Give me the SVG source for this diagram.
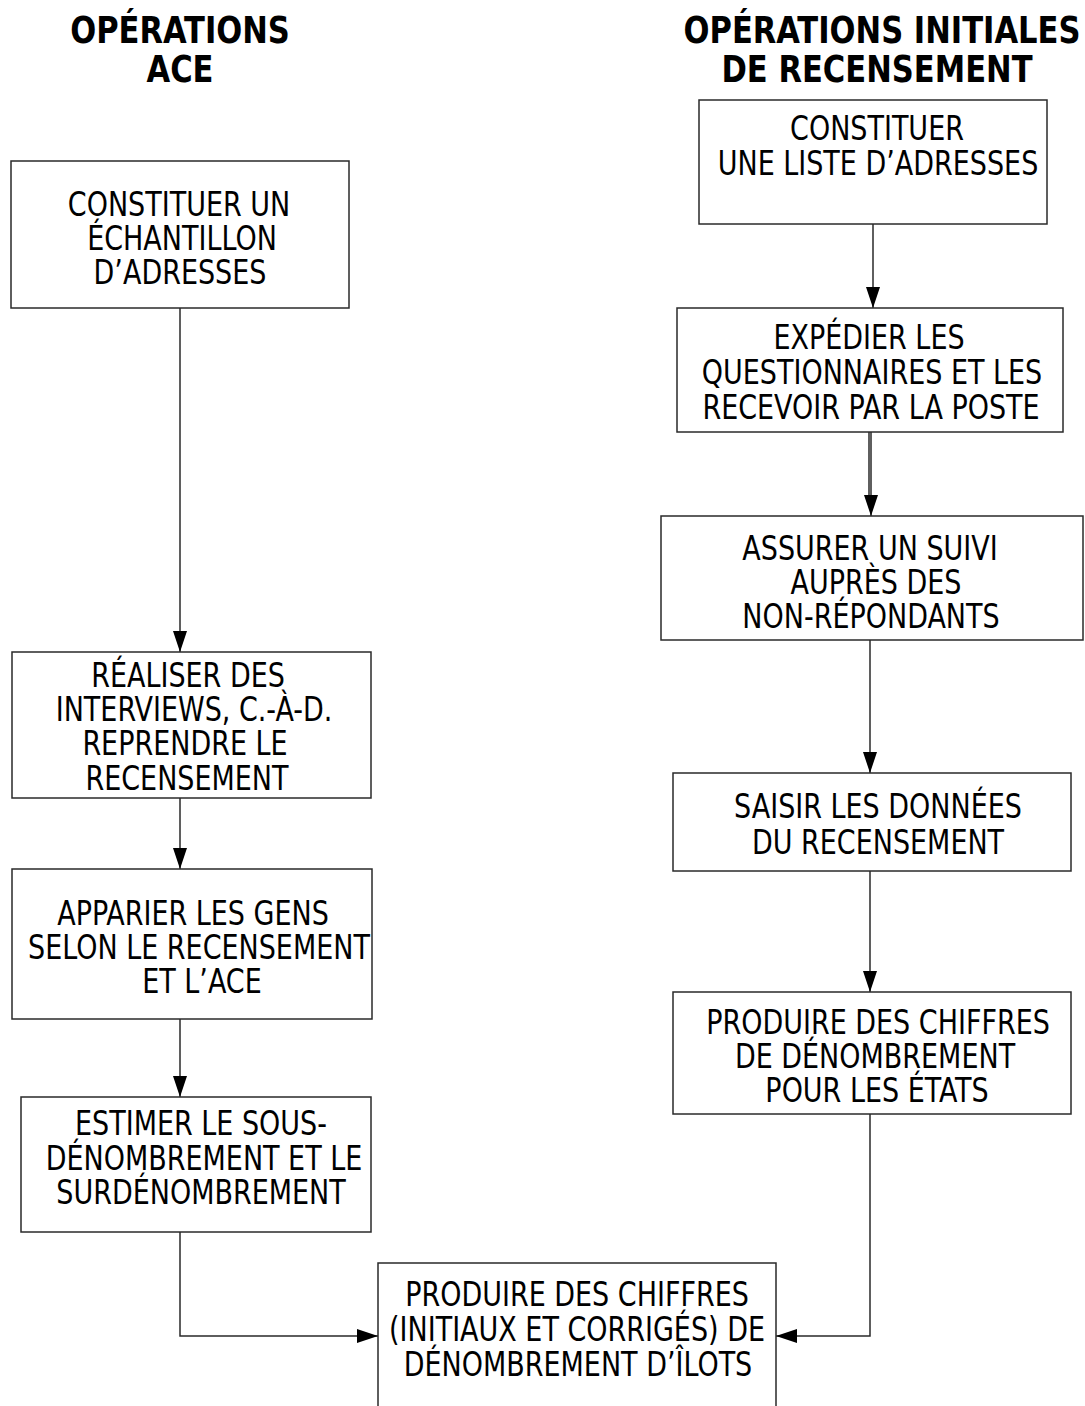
<svg xmlns="http://www.w3.org/2000/svg" width="1085" height="1406" viewBox="0 0 1085 1406">
<style>
  .box { fill: #ffffff; stroke: #2a2a2a; stroke-width: 1.5; }
  .t { font-family: "DejaVu Sans Condensed", "DejaVu Sans", sans-serif; font-stretch: condensed; font-size: 30px; fill: #000; text-anchor: middle; }
  .h { font-family: "DejaVu Sans Condensed", "DejaVu Sans", sans-serif; font-stretch: condensed; font-weight: bold; font-size: 34px; fill: #000; text-anchor: middle; }
  .c { fill: none; stroke: #2a2a2a; stroke-width: 1.5; }
</style>
<defs>
  <marker id="arr" markerUnits="userSpaceOnUse" markerWidth="22" markerHeight="14" refX="21" refY="7" orient="auto">
    <path d="M0,0 L21,7 L0,14 z" fill="#000"/>
  </marker>
</defs>
<rect width="1085" height="1406" fill="#fff"/>

<g id="titles">
  <text class="h" transform="translate(180,43) scale(1,1.1)">OPÉRATIONS</text>
  <text class="h" transform="translate(180,82) scale(1,1.1)">ACE</text>
  <text class="h" transform="translate(882,43) scale(1,1.1)">OPÉRATIONS INITIALES</text>
  <text class="h" transform="translate(877,82) scale(1,1.1)">DE RECENSEMENT</text>
</g>

<g id="connectors">
  <line class="c" x1="180" y1="308" x2="180" y2="652" marker-end="url(#arr)"/>
  <line class="c" x1="180" y1="798" x2="180" y2="869" marker-end="url(#arr)"/>
  <line class="c" x1="180" y1="1019" x2="180" y2="1097" marker-end="url(#arr)"/>
  <polyline class="c" points="180,1232 180,1336 378,1336" marker-end="url(#arr)"/>
  <line class="c" x1="873" y1="224" x2="873" y2="308" marker-end="url(#arr)"/>
  <line class="c" x1="869" y1="432" x2="869" y2="500" stroke-width="1"/>
  <line class="c" x1="871" y1="432" x2="871" y2="516" marker-end="url(#arr)"/>
  <line class="c" x1="870" y1="640" x2="870" y2="773" marker-end="url(#arr)"/>
  <line class="c" x1="870" y1="871" x2="870" y2="992" marker-end="url(#arr)"/>
  <polyline class="c" points="870,1114 870,1336 776,1336" marker-end="url(#arr)"/>
</g>

<g id="n-echantillon">
  <rect class="box" x="11" y="161" width="338" height="147"/>
  <text class="t" transform="translate(179,216) scale(1,1.12)">CONSTITUER UN</text>
  <text class="t" transform="translate(182,250) scale(1,1.12)">ÉCHANTILLON</text>
  <text class="t" transform="translate(180,284) scale(1,1.12)">D’ADRESSES</text>
</g>

<g id="n-interviews">
  <rect class="box" x="12" y="652" width="359" height="146"/>
  <text class="t" transform="translate(188,687) scale(1,1.12)">RÉALISER DES</text>
  <text class="t" transform="translate(194,721) scale(1,1.12)">INTERVIEWS, C.-À-D.</text>
  <text class="t" transform="translate(185,755) scale(1,1.12)">REPRENDRE LE</text>
  <text class="t" transform="translate(187,790) scale(1,1.12)">RECENSEMENT</text>
</g>

<g id="n-apparier">
  <rect class="box" x="12" y="869" width="360" height="150"/>
  <text class="t" transform="translate(193,925) scale(1,1.12)">APPARIER LES GENS</text>
  <text class="t" transform="translate(199,959) scale(1,1.12)">SELON LE RECENSEMENT</text>
  <text class="t" transform="translate(202,993) scale(1,1.12)">ET L’ACE</text>
</g>

<g id="n-estimer">
  <rect class="box" x="21" y="1097" width="350" height="135"/>
  <text class="t" transform="translate(201,1135) scale(1,1.12)">ESTIMER LE SOUS-</text>
  <text class="t" transform="translate(204,1170) scale(1,1.12)">DÉNOMBREMENT ET LE</text>
  <text class="t" transform="translate(201,1204) scale(1,1.12)">SURDÉNOMBREMENT</text>
</g>

<g id="n-ilots">
  <path class="box" d="M378,1410 L378,1263 L776,1263 L776,1410"/>
  <text class="t" transform="translate(577,1306) scale(1,1.12)">PRODUIRE DES CHIFFRES</text>
  <text class="t" transform="translate(577,1341) scale(1,1.12)">(INITIAUX ET CORRIGÉS) DE</text>
  <text class="t" transform="translate(578,1376) scale(1,1.12)">DÉNOMBREMENT D’ÎLOTS</text>
</g>

<g id="n-liste">
  <rect class="box" x="699" y="100" width="348" height="124"/>
  <text class="t" transform="translate(877,140) scale(1,1.12)">CONSTITUER</text>
  <text class="t" transform="translate(878,175) scale(1,1.12)">UNE LISTE D’ADRESSES</text>
</g>

<g id="n-expedier">
  <rect class="box" x="677" y="308" width="386" height="124"/>
  <text class="t" transform="translate(869,349) scale(1,1.12)">EXPÉDIER LES</text>
  <text class="t" transform="translate(872,384) scale(1,1.12)">QUESTIONNAIRES ET LES</text>
  <text class="t" transform="translate(871,419) scale(1,1.12)">RECEVOIR PAR LA POSTE</text>
</g>

<g id="n-suivi">
  <rect class="box" x="661" y="516" width="422" height="124"/>
  <text class="t" transform="translate(870,560) scale(1,1.12)">ASSURER UN SUIVI</text>
  <text class="t" transform="translate(876,594) scale(1,1.12)">AUPRÈS DES</text>
  <text class="t" transform="translate(871,628) scale(1,1.12)">NON-RÉPONDANTS</text>
</g>

<g id="n-saisir">
  <rect class="box" x="673" y="773" width="398" height="98"/>
  <text class="t" transform="translate(878,818) scale(1,1.12)">SAISIR LES DONNÉES</text>
  <text class="t" transform="translate(878,854) scale(1,1.12)">DU RECENSEMENT</text>
</g>

<g id="n-etats">
  <rect class="box" x="673" y="992" width="398" height="122"/>
  <text class="t" transform="translate(878,1034) scale(1,1.12)">PRODUIRE DES CHIFFRES</text>
  <text class="t" transform="translate(875,1068) scale(1,1.12)">DE DÉNOMBREMENT</text>
  <text class="t" transform="translate(877,1102) scale(1,1.12)">POUR LES ÉTATS</text>
</g>
</svg>
